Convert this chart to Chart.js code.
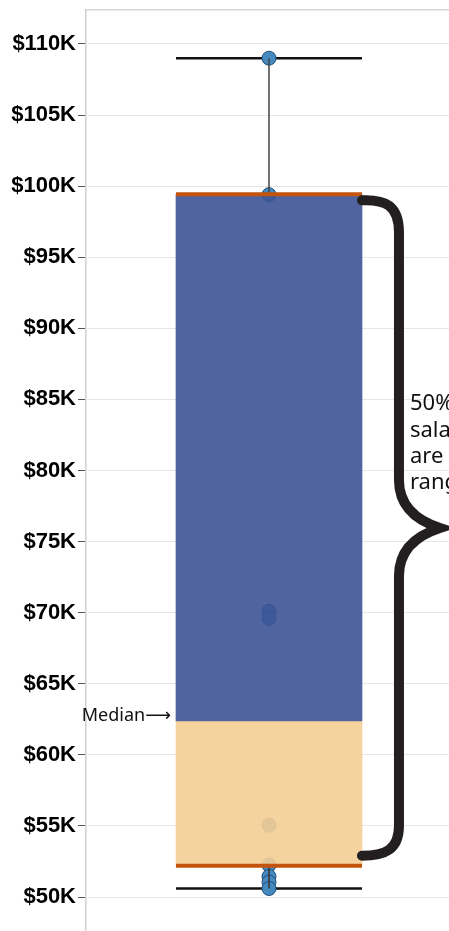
<!DOCTYPE html>
<html>
<head>
<meta charset="utf-8">
<script src="https://cdn.jsdelivr.net/npm/chart.js@4.4.1/dist/chart.umd.min.js"></script>
<style>
  html, body { margin: 0; padding: 0; background: #fff; overflow: hidden; }
  #wrap { width: 449px; height: 931px; position: relative; }
</style>
</head>
<body>
<div id="wrap"><canvas id="boxChart"></canvas></div>
<script>
// salaries (dollars)
const salaries = [109000, 99400, 70100, 69600, 55050, 52250, 51450, 51050, 50600];
// box statistics: min, q1, median, q3, max
const stats = [50600, 52200, 62380, 99430, 109000];
const yTicks = [50000, 55000, 60000, 65000, 70000, 75000, 80000, 85000, 90000, 95000, 100000, 105000, 110000];
const braceText = ['50% of', 'salaries', 'are in this', 'range'];
const medianText = 'Median\u27F6';

const half = 0.5; // half box width in x units
const [sMin, sQ1, sMed, sQ3, sMax] = stats;

const seg = (y) => [{x: -half, y: y}, {x: half, y: y}];
const vert = (a, b) => [{x: 0, y: a}, {x: 0, y: b}];

// brace + labels
const notes = {
  id: 'notes',
  afterDatasetsDraw(chart) {
    const c = chart.ctx, x = chart.scales.x, y = chart.scales.y;
    const right = x.getPixelForValue(half);
    const left = x.getPixelForValue(-half);
    const top = y.getPixelForValue(sQ3) + 6;
    const bot = y.getPixelForValue(sQ1) - 10;
    const mid = (top + bot) / 2;
    const bx = right + 37, tip = right + 78;
    c.save();
    c.strokeStyle = '#231f20';
    c.lineWidth = 10;
    c.lineCap = 'round';
    c.lineJoin = 'miter';
    c.beginPath();
    c.moveTo(right, top);
    c.bezierCurveTo(right + 23, top - 1, bx, top + 5, bx, top + 32);
    c.lineTo(bx, mid - 48);
    c.bezierCurveTo(bx, mid - 23, bx + 16, mid - 8, tip, mid);
    c.bezierCurveTo(bx + 16, mid + 8, bx, mid + 23, bx, mid + 48);
    c.lineTo(bx, bot - 30);
    c.bezierCurveTo(bx, bot - 6, right + 23, bot, right, bot);
    c.stroke();

    c.fillStyle = '#111';
    c.font = '22px "Noto Sans"';
    c.textAlign = 'left';
    c.textBaseline = 'middle';
    braceText.forEach((t, i) => c.fillText(t, right + 48, mid - 124 + i * 26.3));

    c.font = '18px "Noto Sans", "DejaVu Sans"';
    c.textAlign = 'right';
    c.fillText(medianText, left - 5, y.getPixelForValue(sMed) - 5);
    c.restore();
  }
};

new Chart(document.getElementById('boxChart'), {
  data: {
    datasets: [
      {
        type: 'line', order: 1, data: seg(sQ3),
        borderColor: '#c4540c', borderWidth: 4, pointRadius: 0
      },
      {
        type: 'line', order: 1, data: seg(sQ1),
        borderColor: '#c4540c', borderWidth: 4, pointRadius: 0
      },
      {
        type: 'bar', order: 2, grouped: false, barThickness: 186,
        data: [{x: 0, y: [sMed, sQ3]}],
        backgroundColor: 'rgba(61,84,149,0.9)', borderWidth: 0
      },
      {
        type: 'bar', order: 2, grouped: false, barThickness: 186,
        data: [{x: 0, y: [sQ1, sMed]}],
        backgroundColor: 'rgba(244,206,149,0.9)', borderWidth: 0
      },
      {
        type: 'line', order: 3, data: vert(sQ3, sMax),
        borderColor: '#444', borderWidth: 1.5, pointRadius: 0
      },
      {
        type: 'line', order: 3, data: vert(sMin, sQ1),
        borderColor: '#333', borderWidth: 1.5, pointRadius: 0
      },
      {
        type: 'scatter', order: 4,
        data: salaries.map(v => ({x: 0, y: v})),
        pointRadius: 7, backgroundColor: '#4589bf', borderColor: '#1f4e79', borderWidth: 1
      },
      {
        type: 'line', order: 5, data: seg(sMax),
        borderColor: '#111', borderWidth: 2.5, pointRadius: 0
      },
      {
        type: 'line', order: 5, data: seg(sMin),
        borderColor: '#111', borderWidth: 2.5, pointRadius: 0
      }
    ]
  },
  options: {
    responsive: true,
    maintainAspectRatio: false,
    animation: false,
    layout: { autoPadding: false, padding: { top: 10, right: 0, bottom: 0, left: 0 } },
    plugins: { legend: { display: false }, tooltip: { enabled: false } },
    scales: {
      x: {
        type: 'linear', position: 'top', min: -0.984, max: 0.968, offset: false,
        ticks: { display: false },
        grid: { display: false, drawTicks: false, tickLength: 0 },
        border: { display: true, color: '#d6d6d6', width: 1.5 }
      },
      y: {
        type: 'linear', min: 47610, max: 112390,
        afterBuildTicks: (s) => { s.ticks = yTicks.map(v => ({value: v})); },
        afterFit: (s) => { s.width = 86; s.paddingTop = 0; s.paddingBottom = 0; },
        ticks: {
          padding: 2, color: '#000',
          font: { family: '"Liberation Sans", Arial', size: 22, weight: 'bold' },
          callback: (v) => '$' + (v / 1000) + 'K'
        },
        grid: { color: '#e6e6e6', tickLength: 8, tickColor: '#555', lineWidth: 1 },
        border: { color: '#d0d0d0', width: 1.5 }
      }
    }
  },
  plugins: [notes]
});
</script>
</body>
</html>
